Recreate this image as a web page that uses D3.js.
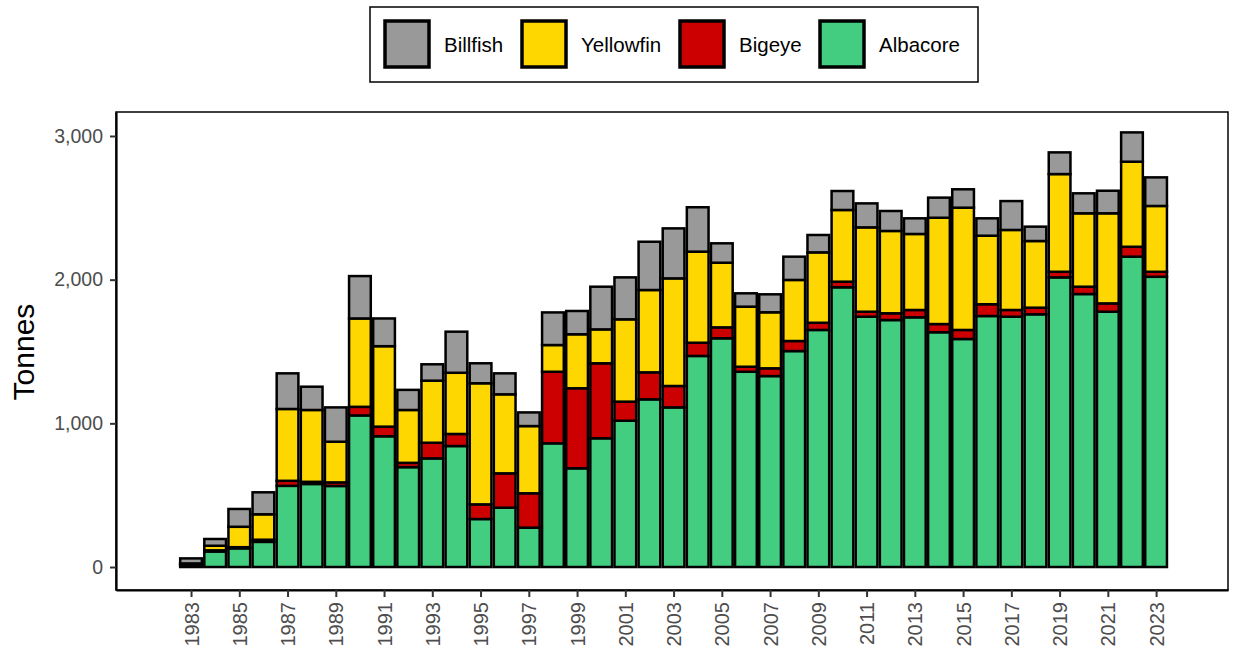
<!DOCTYPE html>
<html>
<head>
<meta charset="utf-8">
<script src="https://cdn.jsdelivr.net/npm/d3@7"></script>
<style>
  body { margin: 0; background: #fff; }
  text { font-family: "Liberation Sans", Arial, sans-serif; }
</style>
</head>
<body>
<div id="chart"></div>
<script>
// catch by year, tonnes
var years = [1983, 1984, 1985, 1986, 1987, 1988, 1989, 1990, 1991, 1992,
             1993, 1994, 1995, 1996, 1997, 1998, 1999, 2000, 2001, 2002,
             2003, 2004, 2005, 2006, 2007, 2008, 2009, 2010, 2011, 2012,
             2013, 2014, 2015, 2016, 2017, 2018, 2019, 2020, 2021, 2022, 2023];

var albacore  = [15, 108, 130, 175, 565, 578, 564, 1055, 910, 695,
                 756, 842, 334, 413, 274, 861, 687, 896, 1018, 1167,
                 1111, 1469, 1592, 1359, 1329, 1503, 1650, 1947, 1742, 1719,
                 1738, 1634, 1587, 1747, 1742, 1759, 2016, 1900, 1777, 2160, 2020];
var bigeye    = [2, 8, 8, 15, 35, 15, 25, 60, 67, 30,
                 109, 84, 102, 239, 239, 498, 557, 522, 133, 188,
                 149, 92, 76, 35, 54, 70, 50, 39, 35, 47,
                 51, 57, 63, 82, 47, 46, 39, 51, 58, 69, 35];
var yellowfin = [8, 32, 142, 177, 500, 500, 283, 615, 560, 368,
                 432, 426, 843, 550, 468, 186, 376, 236, 573, 573,
                 749, 634, 450, 418, 390, 425, 490, 499, 587, 573,
                 529, 740, 851, 477, 557, 464, 680, 511, 627, 592, 458];
var billfish  = [35, 47, 124, 153, 248, 162, 239, 295, 193, 140,
                 114, 286, 139, 146, 95, 227, 162, 297, 292, 336,
                 348, 309, 135, 93, 125, 162, 121, 132, 167, 139,
                 109, 140, 128, 121, 201, 100, 151, 139, 157, 204, 199];

var species = ["Albacore", "Bigeye", "Yellowfin", "Billfish"];
var legendOrder = ["Billfish", "Yellowfin", "Bigeye", "Albacore"];
var colours = ["#43CD80", "#CC0000", "#FFD700", "#999999"];

var yTicks = [0, 1000, 2000, 3000];
var xTicks = [1983, 1985, 1987, 1989, 1991, 1993, 1995, 1997, 1999, 2001, 2003,
              2005, 2007, 2009, 2011, 2013, 2015, 2017, 2019, 2021, 2023];

var width = 1235, height = 658;
var panel = { left: 116, right: 1228, top: 112, bottom: 590 };

var rows = years.map(function(yr, i) {
    return { year: yr, Albacore: albacore[i], Bigeye: bigeye[i],
             Yellowfin: yellowfin[i], Billfish: billfish[i] };
});

var color = d3.scaleOrdinal().domain(species).range(colours);

var x = d3.scaleLinear()
    .domain([1979.89, 2025.98])
    .range([panel.left, panel.right]);

var y = d3.scaleLinear()
    .domain([-160, 3167])
    .range([panel.bottom, panel.top]);

var barW = (x(1984) - x(1983)) * 0.9;

var svg = d3.select("#chart")
    .append("svg")
    .attr("width", width)
    .attr("height", height);

// bars
var stacked = d3.stack().keys(species)(rows);

svg.append("g")
    .selectAll("g")
    .data(stacked)
    .enter()
    .append("g")
    .attr("fill", function(d) { return color(d.key); })
    .selectAll("rect")
    .data(function(d) { return d; })
    .enter()
    .append("rect")
    .attr("x", function(d) { return x(d.data.year) - barW / 2; })
    .attr("width", barW)
    .attr("y", function(d) { return y(d[1]); })
    .attr("height", function(d) { return y(d[0]) - y(d[1]); })
    .attr("stroke", "black")
    .attr("stroke-width", 2.5);

// panel border
svg.append("rect")
    .attr("x", panel.left)
    .attr("y", panel.top)
    .attr("width", panel.right - panel.left)
    .attr("height", panel.bottom - panel.top)
    .attr("fill", "none")
    .attr("stroke", "black")
    .attr("stroke-width", 1.5);

// y axis
var yAxis = svg.append("g")
    .attr("transform", "translate(" + panel.left + ",0)")
    .call(d3.axisLeft(y).tickValues(yTicks).tickFormat(d3.format(","))
        .tickSize(6).tickSizeOuter(0).tickPadding(7));
yAxis.select(".domain").attr("stroke", "black").attr("stroke-width", 2.2);
yAxis.selectAll(".tick line").attr("stroke", "#333").attr("stroke-width", 2);
yAxis.selectAll(".tick text")
    .attr("fill", "#4d4d4d")
    .style("font-size", "19.5px");

// x axis
var xAxis = svg.append("g")
    .attr("transform", "translate(0," + panel.bottom + ")")
    .call(d3.axisBottom(x).tickValues(xTicks).tickFormat(d3.format("d"))
        .tickSize(7).tickSizeOuter(0));
xAxis.select(".domain").attr("stroke", "black").attr("stroke-width", 2.2);
xAxis.selectAll(".tick line").attr("stroke", "#333").attr("stroke-width", 2);
xAxis.selectAll(".tick text")
    .attr("fill", "#4d4d4d")
    .style("font-size", "20px")
    .style("text-anchor", "end")
    .attr("transform", "rotate(-90)")
    .attr("x", -12)
    .attr("y", 0)
    .attr("dy", "0.35em");

// y title
svg.append("text")
    .attr("transform", "translate(34,352) rotate(-90)")
    .attr("text-anchor", "middle")
    .style("font-size", "30px")
    .text("Tonnes");

// legend
var legend = svg.append("g");
legend.append("rect")
    .attr("x", 370).attr("y", 7)
    .attr("width", 608).attr("height", 75)
    .attr("fill", "white")
    .attr("stroke", "black")
    .attr("stroke-width", 1.5);

var keyX = [385, 522, 680, 820];
legendOrder.forEach(function(k, i) {
    legend.append("rect")
        .attr("x", keyX[i]).attr("y", 21)
        .attr("width", 44).attr("height", 46)
        .attr("fill", color(k))
        .attr("stroke", "black")
        .attr("stroke-width", 3.5);
    legend.append("text")
        .attr("x", keyX[i] + 59)
        .attr("y", 52)
        .style("font-size", "20.5px")
        .text(k);
});
</script>
</body>
</html>
